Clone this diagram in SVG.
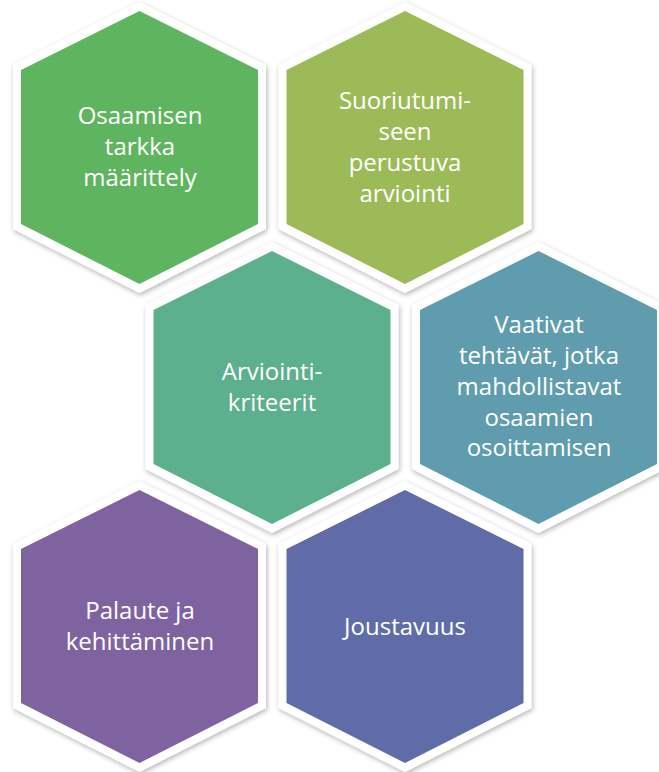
<svg xmlns="http://www.w3.org/2000/svg" xmlns:xlink="http://www.w3.org/1999/xlink" width="659" height="772" viewBox="0 0 659 772">
<style>
.hex{stroke:#ffffff;stroke-width:16;stroke-linejoin:miter;paint-order:stroke;filter:url(#sh)}
.t{font-family:"Open Sans","Liberation Sans",sans-serif;font-size:24px;fill:#ffffff;text-anchor:middle}
</style>
<defs>
<filter id="sh" x="-10%" y="-10%" width="120%" height="120%">
<feDropShadow dx="1" dy="2" stdDeviation="2.5" flood-color="#000000" flood-opacity="0.3"/>
</filter>
<polygon id="hexshape" points="0,0 118.5,59 118.5,213 0,273 -118.5,213 -118.5,59"/>
</defs>
<rect width="659" height="772" fill="#ffffff"/>
<g id="connectors"></g>
<g id="n1">
<use xlink:href="#hexshape" class="hex" fill="#5FB55E" transform="translate(139.5,11)"/>
<text class="t" x="140" y="124">Osaamisen</text>
<text class="t" x="140" y="155">tarkka</text>
<text class="t" x="140" y="186">määrittely</text>
</g>
<g id="n2">
<use xlink:href="#hexshape" class="hex" fill="#9CBB58" transform="translate(405,11)"/>
<text class="t" x="405" y="109">Suoriutumi-</text>
<text class="t" x="405" y="140">seen</text>
<text class="t" x="405" y="171">perustuva</text>
<text class="t" x="405" y="202">arviointi</text>
</g>
<g id="n3">
<use xlink:href="#hexshape" class="hex" fill="#5CB08E" transform="translate(272,251)"/>
<text class="t" x="272" y="380">Arviointi-</text>
<text class="t" x="272" y="411">kriteerit</text>
</g>
<g id="n4">
<use xlink:href="#hexshape" class="hex" fill="#5F9CAD" transform="translate(538.5,251)"/>
<text class="t" x="539" y="333">Vaativat</text>
<text class="t" x="539" y="364">tehtävät, jotka</text>
<text class="t" x="539" y="395">mahdollistavat</text>
<text class="t" x="539" y="426">osaamien</text>
<text class="t" x="539" y="456">osoittamisen</text>
</g>
<g id="n5">
<use xlink:href="#hexshape" class="hex" fill="#7F63A1" transform="translate(139.5,490)"/>
<text class="t" x="140" y="619">Palaute ja</text>
<text class="t" x="140" y="650">kehittäminen</text>
</g>
<g id="n6">
<use xlink:href="#hexshape" class="hex" fill="#606CA8" transform="translate(405,490)"/>
<text class="t" x="405" y="635">Joustavuus</text>
</g>
</svg>
